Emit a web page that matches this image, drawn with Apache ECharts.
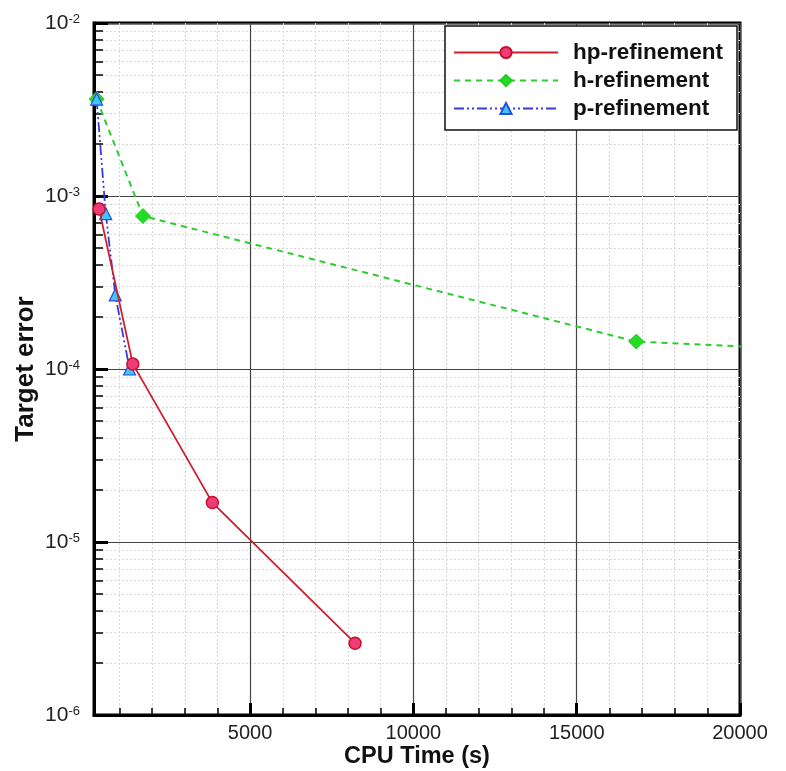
<!DOCTYPE html>
<html>
<head>
<meta charset="utf-8">
<script src="https://cdn.jsdelivr.net/npm/echarts@6/dist/echarts.min.js"></script>
<style>html,body{margin:0;padding:0;background:#fff}#c{width:786px;height:771px}</style>
</head>
<body>
<div id="c"></div>
<script>
// ---- data ----
const seriesNames = ['hp-refinement', 'h-refinement', 'p-refinement'];
const hpTime  = [376, 1408, 3844, 8213];
const hpError = [8.4e-4, 1.07e-4, 1.69e-5, 2.6e-6];
const hTime   = [300, 1719, 16826, 33000];
const hError  = [3.63e-3, 7.66e-4, 1.44e-4, 1.04e-4];
const pTime   = [300, 580, 872, 1309];
const pError  = [3.63e-3, 7.9e-4, 2.68e-4, 1.0e-4];
const xMajorTicks = [5000, 10000, 15000, 20000];
const xMinorTicks = [1000,2000,3000,4000,6000,7000,8000,9000,11000,12000,13000,14000,16000,17000,18000,19000];
const yMinorMantissas = [2,3,4,5,6,7,8,9];

const yMinorTicks = [];
[1e-6,1e-5,1e-4,1e-3].forEach(d => yMinorMantissas.forEach(m => yMinorTicks.push(+(m*d).toPrecision(3))));

const pair = (xs, ys) => xs.map((x, i) => [x, ys[i]]);
const FONT = 'Liberation Sans, Arial, Helvetica, sans-serif';
const XMIN = 220, XMAX = 20000;

const chart = echarts.init(document.getElementById('c'));
chart.setOption({
  animation: false,
  backgroundColor: '#fff',
  grid: { left: 94, right: 46, top: 23, bottom: 56, outerBoundsMode: 'none', containLabel: false,
          show: true, borderColor: '#000', borderWidth: 3, backgroundColor: 'transparent' },
  legend: {
    show: true,
    left: 445, top: 26,
    orient: 'vertical',
    backgroundColor: '#fff',
    borderColor: '#111', borderWidth: 1.5, borderRadius: 0,
    padding: [15, 14, 10, 8],
    itemWidth: 104, itemHeight: 14, itemGap: 5,
    textStyle: { fontFamily: FONT, fontSize: 22.5, fontWeight: 'bold', color: '#111', padding: [0, 0, 0, 10] },
    data: seriesNames
  },
  xAxis: [
    {
      type: 'value', min: XMIN, max: XMAX, position: 'bottom',
      axisLine: { show: true, lineStyle: { color: '#000', width: 3 } },
      axisTick: { show: true, inside: true, length: 12, customValues: xMajorTicks, lineStyle: { color: '#000', width: 3 } },
      axisLabel: { customValues: xMajorTicks, formatter: v => String(v), fontFamily: FONT, fontSize: 20, color: '#222', margin: 8 },
      splitLine: { show: true, lineStyle: { color: '#444', width: 1.2 } },
      name: 'CPU Time (s)', nameLocation: 'middle', nameGap: 30, nameMoveOverlap: false,
      nameTextStyle: { fontFamily: FONT, fontSize: 23.5, fontWeight: 'bold', color: '#111' }
    },
    {
      type: 'value', min: XMIN, max: XMAX, position: 'bottom',
      axisLine: { show: false },
      axisTick: { show: true, inside: true, length: 7, customValues: xMinorTicks, lineStyle: { color: '#000', width: 1.5 } },
      axisLabel: { show: false },
      splitLine: { show: true, lineStyle: { color: '#d8d8d8', width: 1, type: [2, 2] } }
    }
  ],
  yAxis: [
    {
      type: 'log', logBase: 10, min: 1e-6, max: 1e-2, position: 'left',
      axisLine: { show: true, lineStyle: { color: '#000', width: 3 } },
      axisTick: { show: true, inside: true, length: 14, lineStyle: { color: '#000', width: 3 } },
      axisLabel: {
        fontFamily: FONT, fontSize: 21, color: '#222', margin: 14,
        formatter: v => '10{s|' + Math.round(Math.log10(v)) + '}',
        rich: { s: { fontFamily: FONT, fontSize: 13, color: '#222', verticalAlign: 'top', padding: [0, 0, 8, 0] } }
      },
      splitLine: { show: true, lineStyle: { color: '#444', width: 1.2 } },
      name: 'Target error', nameLocation: 'middle', nameGap: 55, nameRotate: 90, nameMoveOverlap: false,
      nameTextStyle: { fontFamily: FONT, fontSize: 26, fontWeight: 'bold', color: '#111' }
    },
    {
      type: 'log', logBase: 10, min: 1e-6, max: 1e-2, position: 'left',
      axisLine: { show: false },
      axisTick: { show: true, inside: true, length: 9, customValues: yMinorTicks, lineStyle: { color: '#000', width: 1.5 } },
      axisLabel: { show: false },
      splitLine: { show: true, lineStyle: { color: '#d8d8d8', width: 1, type: [2, 2] } }
    }
  ],
  series: [
    {
      name: seriesNames[0], type: 'line', data: pair(hpTime, hpError), z: 5,
      symbol: 'circle', symbolSize: 12,
      lineStyle: { color: '#cc1f2c', width: 1.8 },
      itemStyle: { color: '#ee3c78', borderColor: '#c8102e', borderWidth: 1.5 }
    },
    {
      name: seriesNames[1], type: 'line', data: pair(hTime, hError), z: 3,
      symbol: 'diamond', symbolSize: 15,
      lineStyle: { color: '#2ecc2e', width: 2, type: [6, 5] },
      itemStyle: { color: '#22dd22', borderColor: '#22cc22', borderWidth: 1 }
    },
    {
      name: seriesNames[2], type: 'line', data: pair(pTime, pError), z: 4,
      symbol: 'triangle', symbolSize: 12,
      lineStyle: { color: '#3a3add', width: 1.8, type: [10, 3, 2, 3, 2, 3] },
      itemStyle: { color: '#3ec6f5', borderColor: '#2a4ee0', borderWidth: 1.2 }
    }
  ]
});
</script>
</body>
</html>
